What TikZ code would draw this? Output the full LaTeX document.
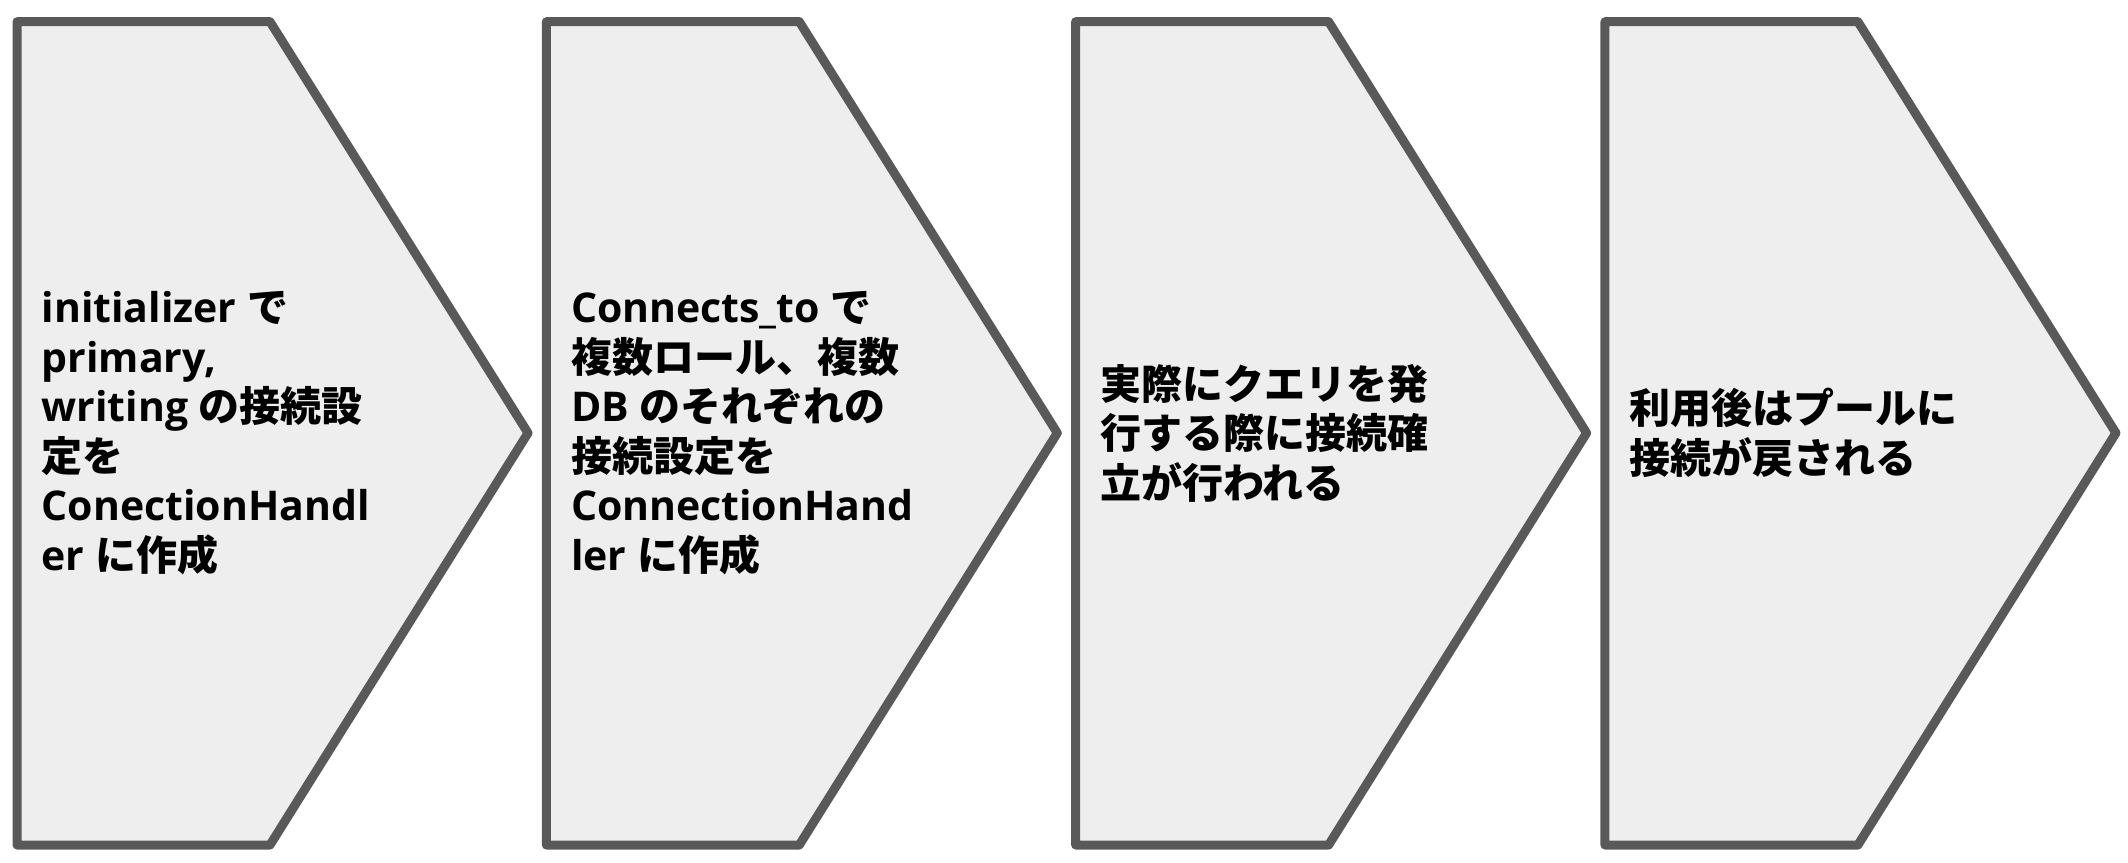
\documentclass[tikz,border=0pt]{standalone}
\usepackage{fontspec}
\setmainfont{Open Sans}
\newfontfamily\jpfont{Noto Sans CJK JP Bold}
\newcommand{\jtxt}[1]{{\jpfont #1}}
\definecolor{boxfill}{HTML}{EEEEEE}
\definecolor{boxline}{HTML}{595959}
\tikzset{
  chevron/.style={fill=boxfill, draw=boxline, line width=9pt, line join=round},
  steptext/.style={anchor=west, inner sep=0pt, align=left, text=black,
    font={\fontsize{41}{49.5}\selectfont\bfseries}}
}
\begin{document}
\begin{tikzpicture}[x=1pt,y=-1pt]
\useasboundingbox (0,0) rectangle (2128,862);
\foreach \k in {0,1,2,3}{
  \pgfmathsetmacro{\xo}{17+529.3*\k}
  \draw[chevron] (\xo,21.7) -- (\xo+253,21.7) -- (\xo+511,433) -- (\xo+253,845) -- (\xo,845) -- cycle;
}
\node[steptext] (t1) at (41.5,433) {initializer \jtxt{で}\\primary,\\writing \jtxt{の接続設}\\\jtxt{定を}\\ConectionHandl\\er \jtxt{に作成}};
\node[steptext] (t2) at (570.8,433) {Connects\_to \jtxt{で}\\\jtxt{複数ロール、複数}\\DB \jtxt{のそれぞれの}\\\jtxt{接続設定を}\\ConnectionHand\\ler \jtxt{に作成}};
\node[steptext] (t3) at (1100.1,433) {\jtxt{実際にクエリを発}\\\jtxt{行する際に接続確}\\\jtxt{立が行われる}};
\node[steptext] (t4) at (1629.4,433) {\jtxt{利用後はプールに}\\\jtxt{接続が戻される}};
\end{tikzpicture}
\end{document}
